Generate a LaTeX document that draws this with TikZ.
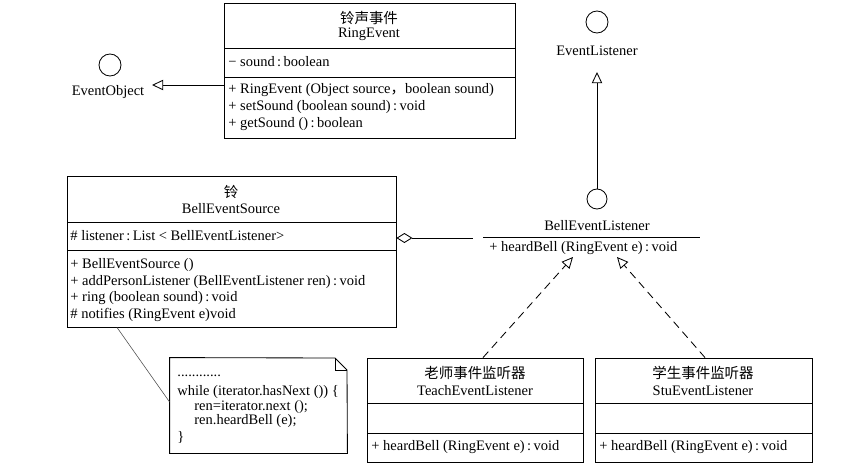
\documentclass[tikz,border=0pt]{standalone}
\usepackage{fontspec}
\setmainfont{Liberation Serif}
\newfontfamily\cjk{Noto Sans CJK SC}
\usetikzlibrary{arrows.meta,fit}

\tikzset{
  umlbox/.style={draw, inner sep=0pt},
  member/.style={anchor=west, inner sep=0pt, font=\fontsize{10.3}{12}\selectfont},
  ctitle/.style={inner sep=0pt, font=\fontsize{10.3}{12}\selectfont},
  iface/.style={draw, circle, inner sep=0pt, minimum size=0.55cm},
  gen/.style={-{Triangle[open,length=2.8mm,width=2.6mm]}},
  realize/.style={gen, dash pattern=on 2mm off 1.3mm},
}

\begin{document}
\begin{tikzpicture}[x=0.025cm, y=-0.025cm, line width=0.6pt]
    \useasboundingbox (0,0) rectangle (854,473);

    % RingEvent class
    \node[umlbox, fit={(224,3) (515,138)}] (ringevent) {};
    \draw (224,48) -- (515,48);
    \draw (224,77) -- (515,77);
    \node[ctitle] (ringevent-cn) at (369,18) {\cjk 铃声事件};
    \node[ctitle] (ringevent-name) at (369,34) {RingEvent};
    \node[member] (ringevent-a1) at (228,62) {− sound\,:\,boolean};
    \node[member] (ringevent-m1) at (228,90) {+ RingEvent (Object source{\cjk ，}boolean sound)};
    \node[member] (ringevent-m2) at (228,107) {+ setSound (boolean sound)\,:\,void};
    \node[member] (ringevent-m3) at (228,124) {+ getSound ()\,:\,boolean};

    % EventObject interface
    \node[iface] (eventobject) at (110,65) {};
    \node[ctitle] (eventobject-label) at (108,92) {EventObject};
    \coordinate (eventobject-in) at (152,85);
    \draw[gen] (ringevent.west |- eventobject-in) -- (eventobject-in);

    % EventListener interface
    \node[iface] (eventlistener) at (597,22) {};
    \node[ctitle] (eventlistener-label) at (597,51) {EventListener};
    \coordinate (eventlistener-in) at (597,72);

    % BellEventListener interface
    \node[iface, minimum size=0.5cm] (belllistener) at (597,199) {};
    \node[ctitle] (belllistener-label) at (597,226) {BellEventListener};
    \coordinate (belllistener-l) at (483,237);
    \coordinate (belllistener-r) at (700,237);
    \draw (belllistener-l) -- (belllistener-r);
    \node[member] (belllistener-m1) at (489,248) {+ heardBell (RingEvent e)\,:\,void};
    \draw[gen] (belllistener.north) -- (eventlistener-in);

    % BellEventSource class
    \node[umlbox, fit={(67,176) (396,327)}] (bellsource) {};
    \draw (67,222) -- (396,222);
    \draw (67,250) -- (396,250);
    \node[ctitle] (bellsource-cn) at (231,192) {\cjk 铃};
    \node[ctitle] (bellsource-name) at (231,209) {BellEventSource};
    \node[member] (bellsource-a1) at (70,236) {\# listener\,:\,List < BellEventListener>};
    \node[member] (bellsource-m1) at (70,265) {+ BellEventSource ()};
    \node[member] (bellsource-m2) at (70,282) {+ addPersonListener (BellEventListener ren)\,:\,void};
    \node[member] (bellsource-m3) at (70,298) {+ ring (boolean sound)\,:\,void};
    \node[member] (bellsource-m4) at (70,315) {\# notifies (RingEvent e)void};

    % aggregation
    \coordinate (aggr-end) at (473,238);
    \draw[{Diamond[open,length=4mm,width=2.5mm]}-] (bellsource.east |- aggr-end) -- (aggr-end);

    % note
    \node[fit={(170,358) (347,453)}, inner sep=0pt] (note) {};
    \draw (note.north west) -- (335,358) -- (347,370) -- (note.south east) -- (note.south west) -- cycle;
    \draw (335,358) -- (335,370) -- (347,370);
    \draw[line width=0.4pt, black!70] (bellsource.south -| 117,0) -- (note.west |- 0,402);
    \node[member] (note-l1) at (177,376) {............};
    \node[member] (note-l2) at (177,392) {while (iterator.hasNext ()) \{};
    \node[member] (note-l3) at (194,407) {ren=iterator.next ();};
    \node[member] (note-l4) at (194,421) {ren.heardBell (e);};
    \node[member] (note-l5) at (177,437) {\}};

    % TeachEventListener class
    \node[umlbox, fit={(367,358) (583,462)}] (teach) {};
    \draw (367,403) -- (583,403);
    \draw (367,433) -- (583,433);
    \node[ctitle] (teach-cn) at (475,373) {\cjk 老师事件监听器};
    \node[ctitle] (teach-name) at (475,391) {TeachEventListener};
    \node[member] (teach-m1) at (371,447) {+ heardBell (RingEvent e)\,:\,void};

    % StuEventListener class
    \node[umlbox, fit={(595,358) (812,462)}] (stu) {};
    \draw (595,403) -- (812,403);
    \draw (595,433) -- (812,433);
    \node[ctitle] (stu-cn) at (703,373) {\cjk 学生事件监听器};
    \node[ctitle] (stu-name) at (703,391) {StuEventListener};
    \node[member] (stu-m1) at (599,447) {+ heardBell (RingEvent e)\,:\,void};

    % realizations
    \coordinate (teach-tip) at (573,257);
    \coordinate (stu-tip) at (617,257);
    \draw[realize] (teach.north -| 483,0) -- (teach-tip);
    \draw[realize] (stu.north -| 705,0) -- (stu-tip);
\end{tikzpicture}
\end{document}
